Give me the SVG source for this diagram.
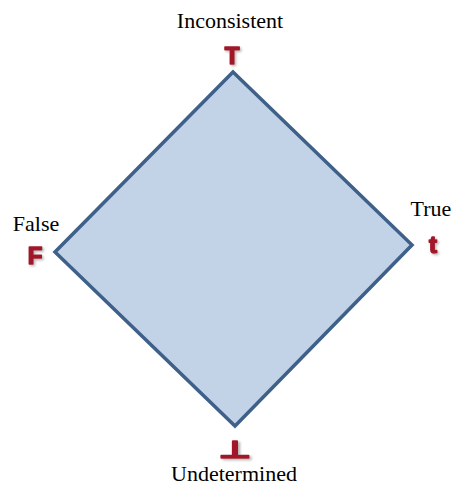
<svg xmlns="http://www.w3.org/2000/svg" width="453" height="490" viewBox="0 0 453 490">
<defs>
<filter id="sh" x="-50%" y="-50%" width="200%" height="200%">
<feDropShadow dx="1.5" dy="1.5" stdDeviation="0.8" flood-color="#888" flood-opacity="0.6"/>
</filter>
</defs>
<style>
.lbl{font-family:"Liberation Serif",serif;font-size:22px;fill:#000;text-anchor:middle}
.sym{font-family:"Liberation Sans","DejaVu Sans",sans-serif;font-weight:bold;font-size:24px;fill:#a3192b;stroke:#a3192b;stroke-width:1.6px;stroke-linejoin:round;text-anchor:middle;filter:url(#sh)}
</style>
<rect width="453" height="490" fill="#fff"/>
<g id="diamond">
<polygon points="233,72 412,245 235,426 55,252" fill="#c3d3e7" stroke="#3e6089" stroke-width="3.5" stroke-linejoin="miter"/>
</g>
<g id="top">
<text class="lbl" x="230" y="28">Inconsistent</text>
<text class="sym" x="232" y="64">T</text>
</g>
<g id="left">
<text class="lbl" x="36" y="231">False</text>
<text class="sym" x="35" y="264">F</text>
</g>
<g id="right">
<text class="lbl" x="431" y="216">True</text>
<text class="sym" x="433" y="253">t</text>
</g>
<g id="bottom">
<text class="sym" transform="translate(235,458) scale(1.5,1)" x="0" y="0" font-family="DejaVu Sans,sans-serif" font-size="28" font-weight="normal" stroke-width="0.8">⊥</text>
<text class="lbl" x="234" y="481">Undetermined</text>
</g>
</svg>
